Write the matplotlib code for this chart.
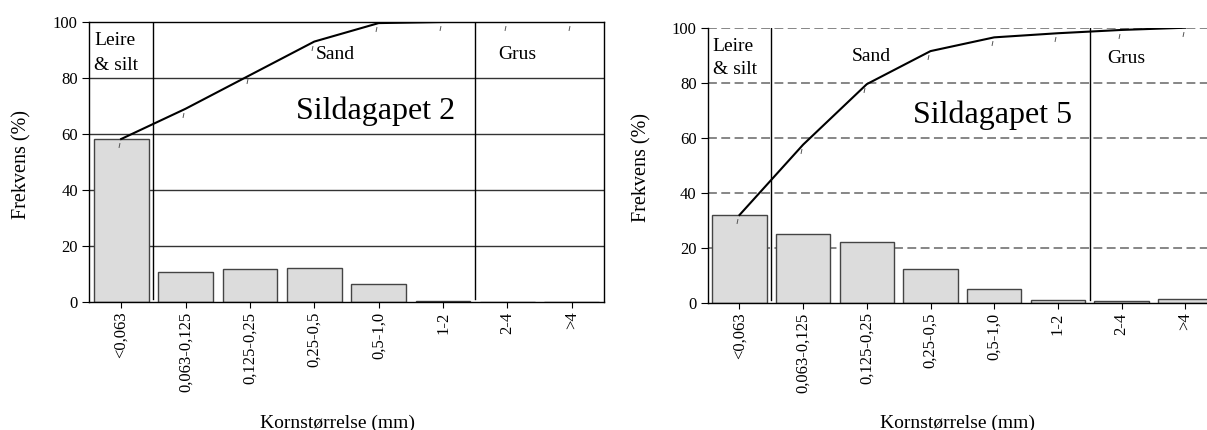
import matplotlib
matplotlib.use('Agg')
import matplotlib.pyplot as plt
import numpy as np

plt.rcParams['font.family'] = ['Liberation Serif', 'DejaVu Serif']

# grain size classes (mm)
classes = ['<0,063', '0,063-0,125', '0,125-0,25', '0,25-0,5',
           '0,5-1,0', '1-2', '2-4', '>4']

# Sildagapet 2
freq_2 = [58.2, 10.8, 11.8, 12.2, 6.5, 0.3, 0.1, 0.1]
cum_2 = [58.2, 69.0, 81.0, 93.0, 99.6, 100.0, 100.0, 100.0]

# Sildagapet 5
freq_5 = [31.9, 25.1, 22.1, 12.1, 4.9, 1.1, 0.8, 1.2]
cum_5 = [31.9, 57.5, 79.5, 91.5, 96.5, 98.0, 99.2, 100.0]

fig = plt.figure(figsize=(12.07, 4.30), dpi=100)
ax1 = fig.add_axes([0.0737, 0.2977, 0.4267, 0.6512])
ax2 = fig.add_axes([0.5863, 0.2960, 0.4220, 0.6395])

tick_mark = [(-0.2, -1), (0.2, 1)]


def draw_panel(ax, freq, cum, title, dashed):
    x = np.arange(len(classes))
    if dashed:
        for yv in [20, 40, 60, 80, 100]:
            ax.axhline(yv, color='#666666', lw=1.1, ls=(0, (5.8, 2.9)), zorder=0)
        ax.spines['top'].set_visible(False)
        ax.spines['right'].set_visible(False)
    else:
        for yv in [20, 40, 60, 80]:
            ax.axhline(yv, color='#333333', lw=1.0, zorder=0)
    ax.bar(x, freq, width=0.85, color='#dcdcdc', edgecolor='#444444',
           linewidth=1.0, zorder=2)
    ax.plot(x, cum, color='black', lw=1.5, zorder=3)
    ax.plot(x - 0.04, np.array(cum) - 2.2, ls='none', marker=tick_mark,
            markersize=3.5, markeredgewidth=0.7, color='#555555', zorder=3)
    for xv in [0.5, 5.5]:
        ax.axvline(xv, ymin=0.01, ymax=1, color='black', lw=1.0, zorder=1)

    ax.set_xlim(-0.5, 7.5)
    ax.set_ylim(0, 100)
    ax.set_yticks([0, 20, 40, 60, 80, 100])
    ax.set_xticks(x)
    ax.set_xticklabels(classes, rotation=90, va='top', ha='center')
    ax.tick_params(axis='x', direction='out', length=4, width=0.8,
                   labelsize=12, pad=3)
    ax.tick_params(axis='y', direction='out', length=5, width=0.8,
                   labelsize=12, pad=3)
    for s in ax.spines.values():
        s.set_linewidth(1.0)

    ax.set_ylabel('Frekvens (%)', fontsize=14.5)
    ax.yaxis.set_label_coords(-0.111, 0.49)
    ax.set_xlabel('Kornstørrelse (mm)', fontsize=14)
    ax.text(-0.42, 91.7, 'Leire', fontsize=14, va='baseline', ha='left')
    ax.text(-0.42, 83.0, '& silt', fontsize=14, va='baseline', ha='left')
    ax.text(title[1], 65.2, title[0], fontsize=23, va='baseline', ha='left')


draw_panel(ax1, freq_2, cum_2, ('Sildagapet 2', 2.71), dashed=False)
ax1.text(3.03, 86.7, 'Sand', fontsize=14, va='baseline', ha='left')
ax1.text(5.86, 86.7, 'Grus', fontsize=14, va='baseline', ha='left')
ax1.xaxis.set_label_coords(0.483, -0.404)

draw_panel(ax2, freq_5, cum_5, ('Sildagapet 5', 2.73), dashed=True)
ax2.yaxis.set_label_coords(-0.110, 0.49)
ax2.text(1.76, 87.9, 'Sand', fontsize=14, va='baseline', ha='left')
ax2.text(5.77, 87.3, 'Grus', fontsize=14, va='baseline', ha='left')
ax2.xaxis.set_label_coords(0.49, -0.408)

fig.savefig('out.png', dpi=100)
